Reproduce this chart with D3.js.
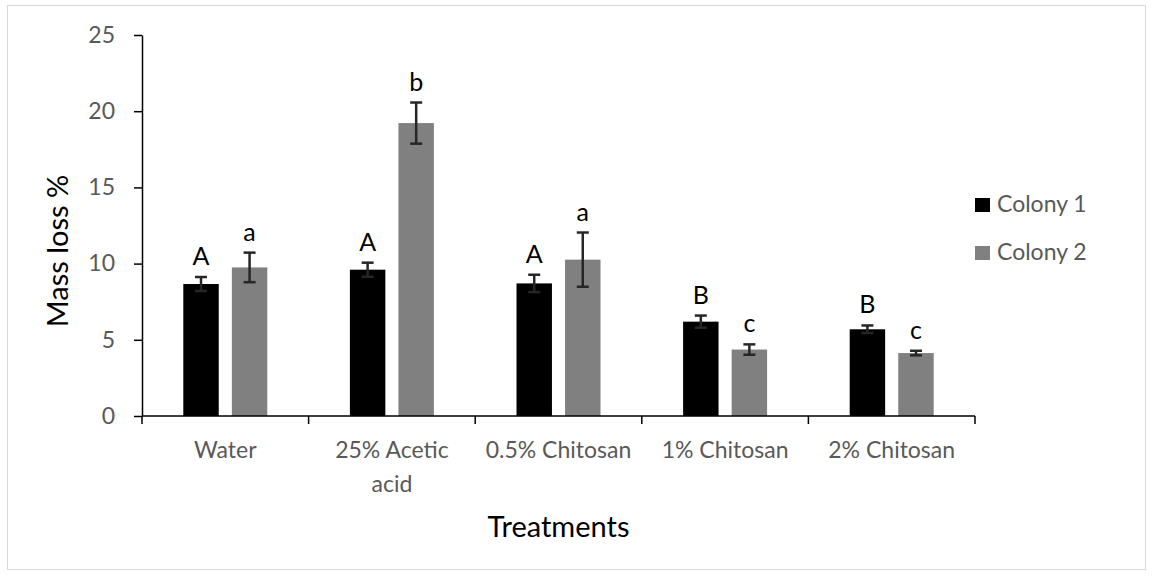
<!DOCTYPE html>
<html>
<head>
<meta charset="utf-8">
<script src="https://cdn.jsdelivr.net/npm/d3@7"></script>
<style>
  html, body { margin: 0; padding: 0; background: #fff; }
  svg { display: block; }
</style>
</head>
<body>
<svg id="chart" width="1152" height="576"></svg>
<script>
// Treatments and measured mass loss (%) per colony
const categories = ["Water", "25% Acetic acid", "0.5% Chitosan", "1% Chitosan", "2% Chitosan"];
const categoryLines = [["Water"], ["25% Acetic", "acid"], ["0.5% Chitosan"], ["1% Chitosan"], ["2% Chitosan"]];
const seriesNames = ["Colony 1", "Colony 2"];
const colony1 = [8.66, 9.60, 8.70, 6.19, 5.69];
const colony2 = [9.75, 19.22, 10.26, 4.36, 4.13];
const colony1Err = [0.46, 0.46, 0.57, 0.40, 0.25];
const colony2Err = [0.97, 1.35, 1.78, 0.34, 0.15];
const colony1Letters = ["A", "A", "A", "B", "B"];
const colony2Letters = ["a", "b", "a", "c", "c"];
const yTicks = [0, 5, 10, 15, 20, 25];

const series = [
  { name: seriesNames[0], values: colony1, err: colony1Err, letters: colony1Letters, color: "#000000" },
  { name: seriesNames[1], values: colony2, err: colony2Err, letters: colony2Letters, color: "#808080" }
];

const svg = d3.select("#chart");
const font = "Lato, 'Open Sans', sans-serif";

// outer frame
svg.append("rect")
  .attr("x", 7.5).attr("y", 5.5).attr("width", 1138).attr("height", 564)
  .attr("fill", "#fff").attr("stroke", "#d9d9d9").attr("stroke-width", 1);

const plot = { left: 142, right: 975, top: 35, bottom: 416 };

const x = d3.scaleBand().domain(categories).range([plot.left, plot.right]).paddingInner(0).paddingOuter(0);
const xSub = d3.scaleBand().domain(seriesNames).range([0, 84]).paddingInner(0.27);
const y = d3.scaleLinear().domain([0, 25]).range([plot.bottom, plot.top]);

// bars, error bars and significance letters
series.forEach(s => {
  const g = svg.append("g");
  const offset = (d) => x(d) + x.bandwidth() / 2 - 42 + xSub(s.name);
  g.selectAll("rect").data(categories).enter().append("rect")
    .attr("x", d => offset(d))
    .attr("y", (d, i) => y(s.values[i]))
    .attr("width", xSub.bandwidth())
    .attr("height", (d, i) => y(0) - y(s.values[i]))
    .attr("fill", s.color);

  const eb = g.selectAll("g.eb").data(categories).enter().append("g").attr("class", "eb");
  const cx = d => offset(d) + xSub.bandwidth() / 2;
  eb.append("line")
    .attr("x1", cx).attr("x2", cx)
    .attr("y1", (d, i) => y(s.values[i] + s.err[i]))
    .attr("y2", (d, i) => y(s.values[i] - s.err[i]))
    .attr("stroke", "#262626").attr("stroke-width", 2.5);
  [1, -1].forEach(sign => {
    eb.append("line")
      .attr("x1", d => cx(d) - 6).attr("x2", d => cx(d) + 6)
      .attr("y1", (d, i) => y(s.values[i] + sign * s.err[i]))
      .attr("y2", (d, i) => y(s.values[i] + sign * s.err[i]))
      .attr("stroke", "#262626").attr("stroke-width", 2.5);
  });
  g.selectAll("text").data(categories).enter().append("text")
    .attr("x", cx)
    .attr("y", (d, i) => y(s.values[i] + s.err[i]) - 12)
    .attr("text-anchor", "middle")
    .attr("font-family", font).attr("font-size", 25)
    .attr("fill", "#000")
    .text((d, i) => s.letters[i]);
});

// y axis
const yAxis = svg.append("g").attr("transform", `translate(${plot.left},0)`)
  .call(d3.axisLeft(y).tickValues(yTicks).tickSize(8).tickPadding(19).tickSizeOuter(0));
yAxis.select(".domain").attr("stroke", "#000").attr("stroke-width", 1.5);
yAxis.selectAll(".tick line").attr("stroke", "#000").attr("stroke-width", 1.5);
yAxis.selectAll(".tick text").attr("font-family", font).attr("font-size", 23).attr("fill", "#595959");

// x axis with tick marks at category boundaries
const xAxisG = svg.append("g").attr("transform", `translate(0,${plot.bottom})`);
xAxisG.append("line").attr("x1", plot.left).attr("x2", plot.right)
  .attr("stroke", "#000").attr("stroke-width", 1.5);
const bounds = categories.map(d => x(d)).concat([plot.right]);
xAxisG.selectAll("line.tk").data(bounds).enter().append("line").attr("class", "tk")
  .attr("x1", d => d).attr("x2", d => d).attr("y1", 0).attr("y2", 8)
  .attr("stroke", "#000").attr("stroke-width", 1.5);
const lbl = xAxisG.selectAll("text.cat").data(categories).enter().append("text").attr("class", "cat")
  .attr("x", d => x(d) + x.bandwidth() / 2)
  .attr("y", 42)
  .attr("text-anchor", "middle")
  .attr("font-family", font).attr("font-size", 23).attr("fill", "#595959");
lbl.each(function(d, i) {
  d3.select(this).selectAll("tspan").data(categoryLines[i]).enter().append("tspan")
    .attr("x", x(d) + x.bandwidth() / 2)
    .attr("dy", (t, j) => j === 0 ? 0 : 34)
    .text(t => t);
});

// axis titles
svg.append("text")
  .attr("transform", `translate(68,251) rotate(-90)`)
  .attr("text-anchor", "middle")
  .attr("font-family", font).attr("font-size", 29).attr("fill", "#000")
  .text("Mass loss %");
svg.append("text")
  .attr("x", (plot.left + plot.right) / 2).attr("y", 537)
  .attr("text-anchor", "middle")
  .attr("font-family", font).attr("font-size", 29).attr("fill", "#000")
  .text("Treatments");

// legend
const legend = svg.append("g").attr("transform", "translate(975,198)");
series.forEach((s, i) => {
  const row = legend.append("g").attr("transform", `translate(0,${i * 48})`);
  row.append("rect").attr("width", 15).attr("height", 14).attr("fill", s.color);
  row.append("text").attr("x", 22).attr("y", 14)
    .attr("font-family", font).attr("font-size", 23).attr("fill", "#595959")
    .text(s.name);
});
</script>
</body>
</html>
